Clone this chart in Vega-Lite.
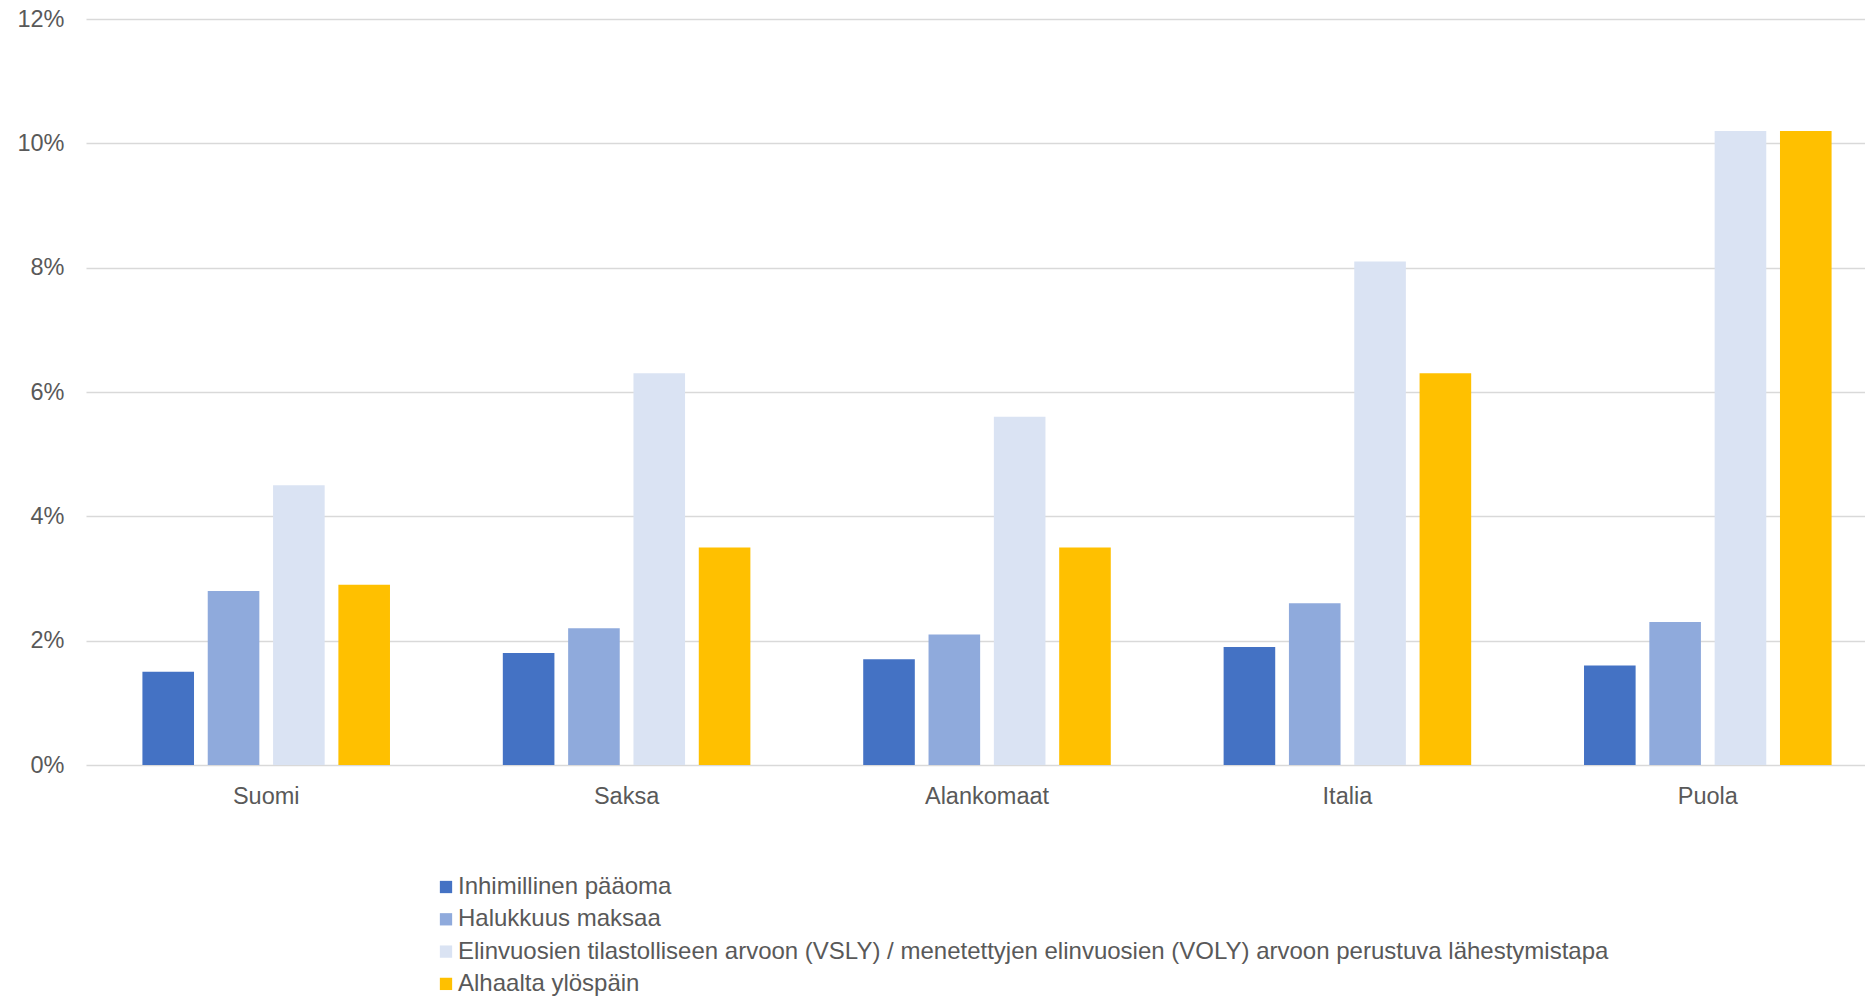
{
  "$schema": "https://vega.github.io/schema/vega-lite/v6.json",
  "width": 1779,
  "height": 746,
  "autosize": {"type": "none"},
  "padding": {"left": 86, "top": 19, "right": 0, "bottom": 234},
  "background": "#ffffff",
  "config": {
    "view": {"stroke": null},
    "font": "Liberation Sans"
  },
  "data": {
    "values": [
      {"maa": "Suomi", "menetelma": "Inhimillinen pääoma", "osuus": 0.015},
      {"maa": "Suomi", "menetelma": "Halukkuus maksaa", "osuus": 0.028},
      {"maa": "Suomi", "menetelma": "Elinvuosien tilastolliseen arvoon (VSLY) / menetettyjen elinvuosien (VOLY) arvoon perustuva lähestymistapa", "osuus": 0.045},
      {"maa": "Suomi", "menetelma": "Alhaalta ylöspäin", "osuus": 0.029},
      {"maa": "Saksa", "menetelma": "Inhimillinen pääoma", "osuus": 0.018},
      {"maa": "Saksa", "menetelma": "Halukkuus maksaa", "osuus": 0.022},
      {"maa": "Saksa", "menetelma": "Elinvuosien tilastolliseen arvoon (VSLY) / menetettyjen elinvuosien (VOLY) arvoon perustuva lähestymistapa", "osuus": 0.063},
      {"maa": "Saksa", "menetelma": "Alhaalta ylöspäin", "osuus": 0.035},
      {"maa": "Alankomaat", "menetelma": "Inhimillinen pääoma", "osuus": 0.017},
      {"maa": "Alankomaat", "menetelma": "Halukkuus maksaa", "osuus": 0.021},
      {"maa": "Alankomaat", "menetelma": "Elinvuosien tilastolliseen arvoon (VSLY) / menetettyjen elinvuosien (VOLY) arvoon perustuva lähestymistapa", "osuus": 0.056},
      {"maa": "Alankomaat", "menetelma": "Alhaalta ylöspäin", "osuus": 0.035},
      {"maa": "Italia", "menetelma": "Inhimillinen pääoma", "osuus": 0.019},
      {"maa": "Italia", "menetelma": "Halukkuus maksaa", "osuus": 0.026},
      {"maa": "Italia", "menetelma": "Elinvuosien tilastolliseen arvoon (VSLY) / menetettyjen elinvuosien (VOLY) arvoon perustuva lähestymistapa", "osuus": 0.081},
      {"maa": "Italia", "menetelma": "Alhaalta ylöspäin", "osuus": 0.063},
      {"maa": "Puola", "menetelma": "Inhimillinen pääoma", "osuus": 0.016},
      {"maa": "Puola", "menetelma": "Halukkuus maksaa", "osuus": 0.023},
      {"maa": "Puola", "menetelma": "Elinvuosien tilastolliseen arvoon (VSLY) / menetettyjen elinvuosien (VOLY) arvoon perustuva lähestymistapa", "osuus": 0.102},
      {"maa": "Puola", "menetelma": "Alhaalta ylöspäin", "osuus": 0.102}
    ]
  },
  "mark": {"type": "bar"},
  "encoding": {
    "x": {
      "field": "maa",
      "type": "nominal",
      "sort": ["Suomi", "Saksa", "Alankomaat", "Italia", "Puola"],
      "scale": {"range": [0, 1802], "paddingInner": 0.275, "paddingOuter": 0.1375},
      "axis": {
        "title": null,
        "labelAngle": 0,
        "labelFontSize": 23.5,
        "labelColor": "#595959",
        "labelPadding": 19,
        "ticks": false,
        "domain": false,
        "grid": false
      }
    },
    "xOffset": {
      "field": "menetelma",
      "type": "nominal",
      "sort": ["Inhimillinen pääoma", "Halukkuus maksaa", "Elinvuosien tilastolliseen arvoon (VSLY) / menetettyjen elinvuosien (VOLY) arvoon perustuva lähestymistapa", "Alhaalta ylöspäin"],
      "scale": {"paddingInner": 0.21, "paddingOuter": 0.105}
    },
    "y": {
      "field": "osuus",
      "type": "quantitative",
      "scale": {"domain": [0, 0.12], "nice": false},
      "axis": {
        "title": null,
        "format": ".0%",
        "values": [0, 0.02, 0.04, 0.06, 0.08, 0.1, 0.12],
        "labelFontSize": 23.5,
        "labelColor": "#595959",
        "labelPadding": 22,
        "ticks": false,
        "domain": false,
        "grid": true,
        "gridColor": "#D9D9D9",
        "gridWidth": 1.3
      }
    },
    "color": {
      "field": "menetelma",
      "type": "nominal",
      "sort": ["Inhimillinen pääoma", "Halukkuus maksaa", "Elinvuosien tilastolliseen arvoon (VSLY) / menetettyjen elinvuosien (VOLY) arvoon perustuva lähestymistapa", "Alhaalta ylöspäin"],
      "scale": {
        "domain": ["Inhimillinen pääoma", "Halukkuus maksaa", "Elinvuosien tilastolliseen arvoon (VSLY) / menetettyjen elinvuosien (VOLY) arvoon perustuva lähestymistapa", "Alhaalta ylöspäin"],
        "range": ["#4472C4", "#8FAADC", "#DAE3F3", "#FFC000"]
      },
      "legend": {
        "title": null,
        "orient": "none",
        "legendX": 348,
        "legendY": 856,
        "direction": "vertical",
        "symbolType": "square",
        "symbolSize": 151,
        "symbolStrokeWidth": 0,
        "labelFontSize": 24,
        "labelColor": "#595959",
        "labelOffset": 0,
        "labelLimit": 1500,
        "rowPadding": 8.3
      }
    }
  }
}
